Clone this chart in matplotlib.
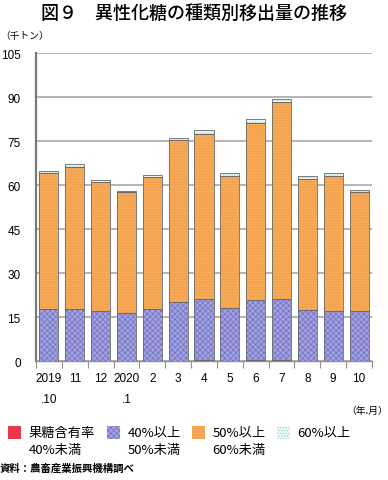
import matplotlib
matplotlib.use("Agg")
import matplotlib.pyplot as plt
from matplotlib.patches import Rectangle
import numpy as np

plt.rcParams['font.family'] = ['Noto Sans CJK JP', 'DejaVu Sans']
plt.rcParams['hatch.linewidth'] = 0.5

months = ["2019\n.10", "11", "12", "2020\n.1", "2", "3", "4", "5", "6", "7", "8", "9", "10"]
# 千トン
under40 = [0.1, 0.1, 0.1, 0.1, 0.1, 0.1, 0.2, 0.1, 0.2, 0.5, 0.1, 0.1, 0.1]
from40to50 = [17.6, 17.5, 16.8, 16.1, 17.5, 20.0, 20.8, 17.9, 20.5, 20.7, 17.2, 17.1, 16.8]
from50to60 = [46.4, 48.7, 44.1, 41.3, 45.0, 55.2, 56.3, 45.0, 60.4, 67.0, 44.6, 45.8, 40.6]
over60 = [0.8, 0.7, 0.6, 0.6, 0.7, 0.6, 1.5, 1.1, 1.4, 1.1, 1.1, 1.1, 0.7]

series = [
    ("果糖含有率\n40%未満", under40, "#e8384a", None, "#e8384a"),
    ("40%以上\n50%未満", from40to50, "#a2a2e0", "xxxxxx", "#7070c0"),
    ("50%以上\n60%未満", from50to60, "#f5a24c", "......", "#f8bc78"),
    ("60%以上", over60, "#eef8f8", "......", "#80d0d0"),
]

fig = plt.figure(figsize=(3.88, 4.81), dpi=100, facecolor="white")
ax = fig.add_axes([0.0928, 0.2474, 0.866, 0.6403])

x = np.arange(len(months))
width = 0.74
bottom = np.zeros(len(months))
for label, vals, fc, hatch, hc in series:
    vals = np.array(vals)
    ax.bar(x, vals, width, bottom=bottom, color=fc, edgecolor=hc, hatch=hatch,
           linewidth=0, zorder=3)
    ax.bar(x, vals, width, bottom=bottom, fill=False, edgecolor="#6a6a6a",
           linewidth=0.6, zorder=4)
    bottom += vals

ax.set_xlim(-0.5, len(months) - 0.5)
ax.set_ylim(0, 105)
ax.set_yticks(np.arange(0, 106, 15))
ax.set_yticklabels([str(v) for v in range(0, 106, 15)], fontsize=8.5,
                   family=['Liberation Sans', 'DejaVu Sans'])
ax.tick_params(axis='y', length=0, pad=11)
ax.yaxis.grid(True, color="#b4b4b4", linewidth=1.4, zorder=0)
ax.set_axisbelow(True)

ax.set_xticks(x)
ax.set_xticklabels(months, fontsize=8.5, va="top", linespacing=1.95,
                   family=['Liberation Sans', 'DejaVu Sans'])
ax.tick_params(axis='x', length=0, pad=8)
ax.set_xticks(np.arange(-0.5, len(months), 1), minor=True)
ax.tick_params(axis='x', which='minor', length=5, color="#909090", width=0.8)

for s in ["top", "right"]:
    ax.spines[s].set_visible(False)
ax.spines["left"].set_color("#7a7a7a")
ax.spines["left"].set_linewidth(1.6)
ax.spines["bottom"].set_color("#909090")
ax.spines["bottom"].set_linewidth(1.0)

fig.text(0.5, 0.971, "図９　異性化糖の種類別移出量の推移", ha="center", va="center",
         fontsize=13, fontweight="medium")
fig.text(0.0, 0.925, "（千トン）", ha="left", va="center", fontsize=7)
fig.text(1.0, 0.146, "（年.月）", ha="right", va="center", fontsize=7)

# legend
key_x = [0.021, 0.276, 0.495, 0.714]
for (label, vals, fc, hatch, hc), kx in zip(series, key_x):
    fig.patches.append(Rectangle((kx, 0.085), 0.034, 0.027, transform=fig.transFigure,
                                 facecolor=fc, edgecolor=hc, hatch=hatch, linewidth=0))
    fig.text(kx + 0.052, 0.113, label, ha="left", va="top", fontsize=9.5, linespacing=1.4)

fig.text(0.0, 0.025, "資料：農畜産業振興機構調べ", ha="left", va="center", fontsize=7.5,
         fontweight="bold")

fig.savefig("out.png", dpi=100, facecolor="white")
